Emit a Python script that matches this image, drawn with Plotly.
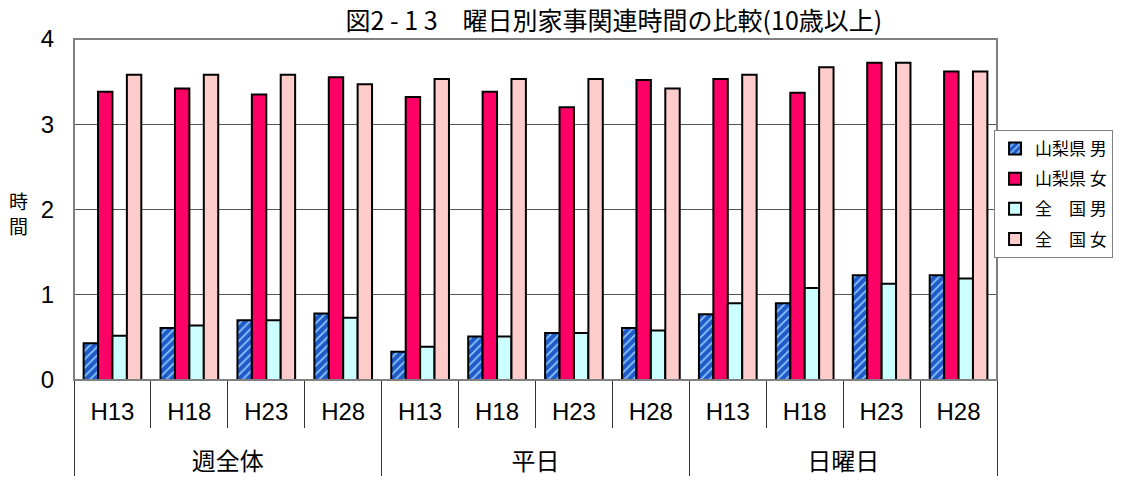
import plotly.graph_objects as go

groups = ["週全体", "平日", "日曜日"]
years = ["H13", "H18", "H23", "H28"]
series_names = ["山梨県 男", "山梨県 女", "全　国 男", "全　国 女"]

yamanashi_m = [0.43, 0.61, 0.70, 0.78, 0.33, 0.51, 0.55, 0.61, 0.77, 0.90, 1.23, 1.23]
yamanashi_f = [3.38, 3.42, 3.35, 3.55, 3.32, 3.38, 3.20, 3.52, 3.53, 3.37, 3.72, 3.62]
zenkoku_m = [0.52, 0.64, 0.70, 0.73, 0.39, 0.51, 0.55, 0.58, 0.90, 1.08, 1.13, 1.19]
zenkoku_f = [3.58, 3.58, 3.58, 3.47, 3.53, 3.53, 3.53, 3.42, 3.58, 3.67, 3.72, 3.62]

y_ticks = [0, 1, 2, 3, 4]

# outer labels get a leading line break so they sit lower, as in the original
x_outer = ["<br>" + g for g in groups for _ in years]
x_inner = [y for _ in groups for y in years]
x = [x_outer, x_inner]

LAT = "Liberation Sans, Arial, Noto Sans CJK JP, sans-serif"
CJK = "Noto Sans CJK JP, sans-serif"

fig = go.Figure()
values = [yamanashi_m, yamanashi_f, zenkoku_m, zenkoku_f]
styles = [
    dict(color="#1E5BC6", pattern=dict(shape="/", fgcolor="#8FC3FF", bgcolor="#1E5BC6",
                                       fillmode="replace", size=6, solidity=0.3)),
    dict(color="#FF0066"),
    dict(color="#CCFFFF"),
    dict(color="#FFCCCC"),
]
for i, (name, vals, st) in enumerate(zip(series_names, values, styles)):
    marker = dict(st)
    marker["line"] = dict(color="black", width=2)
    fig.add_trace(go.Bar(x=x, y=vals, name=name, marker=marker, legendgroup=str(i)))

# page body has an 8px margin, so the figure is laid out 8px up/left
fig.update_layout(
    width=1122, height=482,
    margin=dict(l=66, r=133, t=31, b=110),
    paper_bgcolor="white", plot_bgcolor="white",
    barmode="group", bargap=0.25, bargroupgap=0,
    title=dict(text="図2 - 1 3　曜日別家事関連時間の比較(10歳以上)", x=0.540, xanchor="center",
               xref="container", y=0.972, yanchor="middle", yref="container",
               font=dict(family=CJK, size=25, color="black")),
    legend=dict(x=0.9968, y=0.733, xanchor="left", yanchor="top",
                bordercolor="#808080", borderwidth=1, bgcolor="white",
                font=dict(family=CJK, size=17, color="black"),
                tracegroupgap=5, itemwidth=30),
    font=dict(family=LAT, color="black"),
    showlegend=True,
)
fig.update_yaxes(range=[0, 4], tickvals=y_ticks, showgrid=True, gridcolor="#555555", gridwidth=1,
                 showline=True, linecolor="black", linewidth=1, zeroline=False, automargin=False,
                 ticks="outside", ticklen=14, tickcolor="rgba(0,0,0,0)",
                 tickfont=dict(family=LAT, size=24, color="black"))
fig.update_xaxes(type="multicategory", showdividers=True, dividercolor="#333333", dividerwidth=1,
                 tickson="boundaries", ticks="outside", ticklen=47, tickcolor="#333333",
                 ticklabelstandoff=10,
                 showline=True, linecolor="black", linewidth=1, automargin=False,
                 tickfont=dict(family=LAT, size=24, color="black"))
fig.add_shape(type="rect", xref="paper", yref="paper", x0=0, x1=1, y0=0, y1=1,
              line=dict(color="#808080", width=2), layer="above")
fig.add_annotation(text="時<br>間", xref="paper", yref="paper", x=-0.0596, y=0.49,
                   xanchor="center", yanchor="middle",
                   showarrow=False, font=dict(family=CJK, size=19, color="black"))

fig.write_html("out.html")
